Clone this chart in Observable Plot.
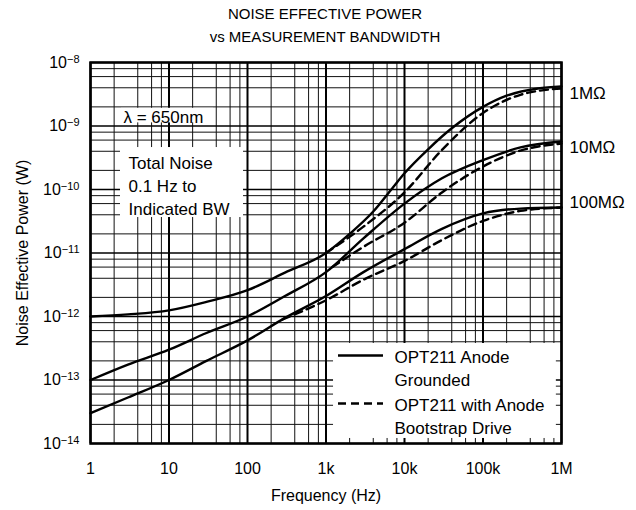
<!DOCTYPE html>
<html><head><meta charset="utf-8">
<script src="https://cdn.jsdelivr.net/npm/d3@7"></script>
<script src="https://cdn.jsdelivr.net/npm/@observablehq/plot@0.6"></script>
<style>
body{margin:0;background:#fff;font-family:"Liberation Sans",Arial,sans-serif;}
#title{height:48px;width:636px;box-sizing:border-box;padding-left:14px;padding-top:2px;text-align:center;font-size:15px;line-height:23px;color:#000}
</style></head><body>
<div id="title">NOISE EFFECTIVE POWER<br>vs MEASUREMENT BANDWIDTH</div>
<div id="chart"></div>
<script>
// ---- axis ticks ----
const xDecades = [1, 10, 100, 1e3, 1e4, 1e5, 1e6];
const xTickLabels = ["1", "10", "100", "1k", "10k", "100k", "1M"];
const yDecades = [1e-14, 1e-13, 1e-12, 1e-11, 1e-10, 1e-9, 1e-8];
const yTickExponents = ["\u221214", "\u221213", "\u221212", "\u221211", "\u221210", "\u22129", "\u22128"];
const gridMultipliers = [2, 4, 6, 8];

// ---- series ----
const resistorLabels = ["1M\u03A9", "10M\u03A9", "100M\u03A9"];

const fSolid1M = [1, 3, 10, 30, 100, 300, 1e3, 2e3, 4e3, 7e3, 1e4, 2e4, 4e4, 1e5, 2e5, 5e5, 1e6];
const pSolid1M = [1.0e-12, 1.08e-12, 1.25e-12, 1.7e-12, 2.6e-12, 4.9e-12, 1.0e-11, 2.0e-11, 4.5e-11, 1.05e-10, 1.8e-10, 4.3e-10, 9.2e-10, 2.0e-9, 3.0e-9, 3.9e-9, 4.2e-9];

const fSolid10M = [1, 3, 10, 30, 100, 300, 1e3, 3e3, 1e4, 3e4, 1e5, 3e5, 1e6];
const pSolid10M = [1.0e-13, 1.75e-13, 3.0e-13, 5.5e-13, 1.0e-12, 2.1e-12, 5.0e-12, 1.7e-11, 6.0e-11, 1.5e-10, 2.9e-10, 4.6e-10, 5.7e-10];

const fSolid100M = [1, 3, 10, 30, 100, 300, 1e3, 3e3, 1e4, 3e4, 1e5, 3e5, 1e6];
const pSolid100M = [3.0e-14, 5.3e-14, 1.0e-13, 2.0e-13, 4.2e-13, 9.5e-13, 2.1e-12, 5.0e-12, 1.15e-11, 2.4e-11, 4.2e-11, 5.0e-11, 5.2e-11];

const fDash1M = [1e3, 3e3, 1e4, 3e4, 1e5, 3e5, 1e6];
const pDash1M = [1.0e-11, 2.6e-11, 9.0e-11, 4.2e-10, 1.6e-9, 3.1e-9, 3.9e-9];

const fDash10M = [1.2e3, 3e3, 1e4, 3e4, 1e5, 3e5, 1e6];
const pDash10M = [6.0e-12, 1.25e-11, 3.0e-11, 9.0e-11, 2.3e-10, 4.1e-10, 5.3e-10];

const fDash100M = [280, 1e3, 3e3, 1e4, 3e4, 1e5, 3e5, 1e6];
const pDash100M = [9.0e-13, 1.8e-12, 3.8e-12, 7.5e-12, 1.6e-11, 3.2e-11, 4.6e-11, 5.2e-11];

const legendItems = ["OPT211 Anode\nGrounded", "OPT211 with Anode\nBootstrap Drive"];

// ---- build tables ----
const toRows = (fs, ps) => fs.map((f, i) => ({f, p: ps[i]}));
const solidSeries = [toRows(fSolid1M, pSolid1M), toRows(fSolid10M, pSolid10M), toRows(fSolid100M, pSolid100M)];
const dashSeries = [toRows(fDash1M, pDash1M), toRows(fDash10M, pDash10M), toRows(fDash100M, pDash100M)];
const minorX = xDecades.slice(0, -1).flatMap(d => gridMultipliers.map(m => m * d));
const minorY = yDecades.slice(0, -1).flatMap(d => gridMultipliers.map(m => m * d));
const labelY = [3.25e-9, 4.6e-10, 6.2e-11];

const font = "Liberation Sans, Arial, sans-serif";
const lineOpts = {x: "f", y: "p", curve: "monotone-x", stroke: "#000", strokeWidth: 2.4};
const dashOpts = {...lineOpts, strokeDasharray: "8,5"};

const chart = Plot.plot({
  width: 636, height: 462,
  marginLeft: 90, marginRight: 75, marginTop: 14, marginBottom: 67,
  style: {fontFamily: font, fontSize: "16px", color: "#000", background: "#fff"},
  x: {type: "log", domain: [1, 1e6], axis: null},
  y: {type: "log", domain: [1e-14, 1e-8], axis: null},
  marks: [
    Plot.ruleX(minorX, {stroke: "#111", strokeWidth: 1}),
    Plot.ruleY(minorY, {stroke: "#111", strokeWidth: 1}),
    Plot.ruleX(xDecades, {stroke: "#000", strokeWidth: 2}),
    Plot.ruleY(yDecades, {stroke: "#000", strokeWidth: 1.5}),
    // white annotation boxes
    Plot.rect([0], {x1: 2.48, x2: 36.9, y1: 1.12e-9, y2: 1.9e-9, fill: "#fff"}),
    Plot.rect([0], {x1: 2.41, x2: 89, y1: 3.62e-11, y2: 4.58e-10, fill: "#fff"}),
    Plot.rect([0], {x1: 1247, x2: 8.6e5, y1: 1.2e-14, y2: 3.76e-13, fill: "#fff"}),
    // curves
    ...solidSeries.map(s => Plot.line(s, lineOpts)),
    ...dashSeries.map(s => Plot.line(s, dashOpts)),
    Plot.frame({stroke: "#000", strokeWidth: 2.5}),
    Plot.text(xDecades, {x: d => d, frameAnchor: "bottom", dy: 25, text: d => xTickLabels[xDecades.indexOf(d)], lineAnchor: "middle", fontSize: 16}),
    Plot.text(yDecades, {y: d => d, frameAnchor: "left", dx: -11, text: d => yTickExponents[yDecades.indexOf(d)], textAnchor: "end", lineAnchor: "middle", fontSize: 16}),
    Plot.text(["Frequency (Hz)"], {frameAnchor: "bottom", dy: 52, lineAnchor: "middle", textAnchor: "middle", fontSize: 16}),
    Plot.text(["Noise Effective Power (W)"], {frameAnchor: "left", dx: -68, rotate: -90, textAnchor: "middle", lineAnchor: "middle", fontSize: 16}),
    // annotations
    Plot.text(["\u03BB = 650nm"], {x: 2.63, y: 1.36e-9, textAnchor: "start", fontSize: 17}),
    Plot.text(["Total Noise\n0.1 Hz to\nIndicated BW"], {x: 3.05, y: 1.2e-10, textAnchor: "start", fontSize: 17, lineHeight: 1.38}),
    Plot.text(resistorLabels, {x: 1e6, y: labelY, dx: 8, textAnchor: "start", fontSize: 17}),
    // legend
    Plot.ruleY([2.43e-13], {x1: 1443, x2: 5400, stroke: "#000", strokeWidth: 2.4}),
    Plot.ruleY([4.27e-14], {x1: 1443, x2: 5400, stroke: "#000", strokeWidth: 2.4, strokeDasharray: "8,5"}),
    Plot.text(legendItems, {x: 7460, y: [1.6e-13, 2.81e-14], textAnchor: "start", fontSize: 17, lineHeight: 1.35})
  ]
});

// y tick labels: "10" with a raised exponent
chart.querySelectorAll("text").forEach(t => {
  const e = t.textContent;
  if (!e.startsWith("\u2212")) return;
  t.textContent = "10";
  const s = document.createElementNS("http://www.w3.org/2000/svg", "tspan");
  s.setAttribute("dy", "-0.45em");
  s.setAttribute("font-size", "11");
  s.textContent = e;
  t.appendChild(s);
});
document.getElementById("chart").appendChild(chart);
</script>
</body></html>
